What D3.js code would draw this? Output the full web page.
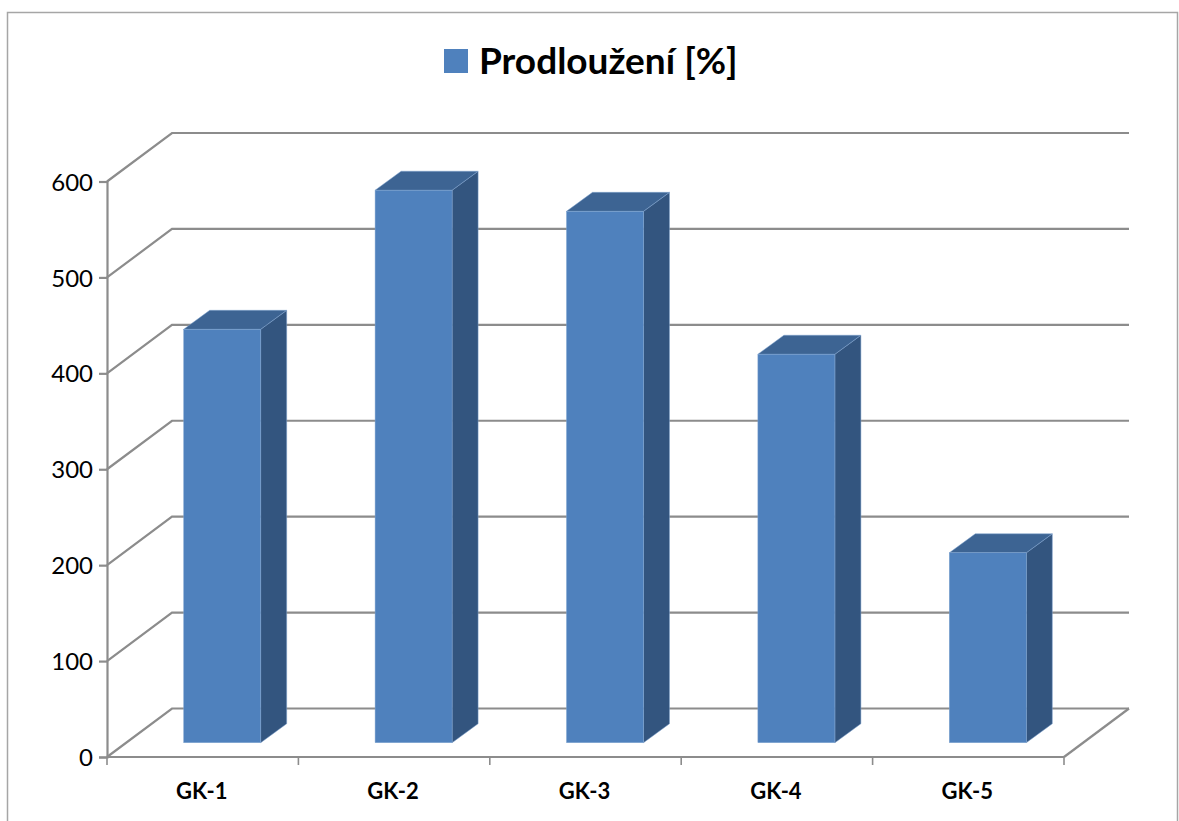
<!DOCTYPE html>
<html>
<head>
<meta charset="utf-8">
<script src="https://cdn.jsdelivr.net/npm/d3@7/dist/d3.min.js"></script>
<style>
html,body{margin:0;padding:0;background:#fff;overflow:hidden}
svg{display:block}
text{font-family:Lato,"Open Sans",sans-serif;fill:#000}
</style>
</head>
<body>
<svg id="chart" width="1179" height="821"></svg>
<script>
// Elongation per sample
const categories = ["GK-1", "GK-2", "GK-3", "GK-4", "GK-5"];
const elongation = [431, 576, 554, 405, 198];
const yTicks = [0, 100, 200, 300, 400, 500, 600];
const seriesName = "Prodloužení [%]";

const svg = d3.select("#chart");
const grey = "#8c8c8c";

const x = d3.scaleBand().domain(categories).range([107, 1064]);
const y = d3.scaleLinear().domain([0, 600]).range([757, 181.5]);

// Oblique projection: wall depth and the inset of the bars on the floor
const wall = {dx: 65, dy: -48.5};
const inset = {dx: 19.5, dy: -14.3};
const barDepth = {dx: 26, dy: -19};
const barWidth = 77;

// Outer chart frame, open at the bottom edge
svg.append("path")
  .attr("d", "M7.5,821V12.5H1177.5V821")
  .attr("fill", "none").attr("stroke", "#a6a6a6").attr("stroke-width", 1.5);

// Gridlines: slanted on the side wall, level on the back wall
const [x0, x1] = x.range();
svg.append("g").selectAll("path").data(yTicks).join("path")
  .attr("d", d => `M${x0},${y(d)}L${x0 + wall.dx},${y(d) + wall.dy}H${x1 + wall.dx}`)
  .attr("fill", "none").attr("stroke", grey).attr("stroke-width", 2.2);

// Front edge of the floor back to the wall
svg.append("path")
  .attr("d", `M${x1},${y(0)}L${x1 + wall.dx},${y(0) + wall.dy}`)
  .attr("fill", "none").attr("stroke", grey).attr("stroke-width", 2.2);

// Value axis
const yAxis = d3.axisLeft(y).tickValues(yTicks).tickSize(8).tickPadding(6);
const yG = svg.append("g").attr("transform", `translate(${x0},0)`).call(yAxis);
yG.selectAll("line,path").attr("stroke", grey).attr("stroke-width", 2.2);
yG.selectAll("text").attr("font-size", 24).attr("dy", "0.36em").attr("font-family", "Lato");

// Category axis with ticks at the band edges
const xG = svg.append("g");
xG.append("line").attr("x1", x0).attr("x2", x1).attr("y1", y(0)).attr("y2", y(0))
  .attr("stroke", grey).attr("stroke-width", 2.2);
const edges = categories.map(c => x(c)).concat(x1);
xG.selectAll("line.tick").data(edges).join("line").attr("class", "tick")
  .attr("x1", d => d).attr("x2", d => d).attr("y1", y(0)).attr("y2", y(0) + 8)
  .attr("stroke", grey).attr("stroke-width", 1.6);
xG.selectAll("text").data(categories).join("text")
  .attr("x", d => x(d) + x.bandwidth() / 2 - 1)
  .attr("y", 799)
  .attr("text-anchor", "middle")
  .attr("font-size", 22).attr("font-weight", 700)
  .text(d => d);

// Bars: side face, top face and front face
const bars = svg.append("g").selectAll("g")
  .data(categories.map((c, i) => ({c, v: elongation[i]})))
  .join("g")
  .attr("transform", d => `translate(${x(d.c) + (x.bandwidth() - barWidth) / 2 + inset.dx},${inset.dy})`);

const edge = "#7ea3cf";
bars.append("path")
  .attr("d", d => `M${barWidth},${y(d.v)}l${barDepth.dx},${barDepth.dy}V${y(0) + barDepth.dy}l${-barDepth.dx},${-barDepth.dy}Z`)
  .attr("fill", "#33557f").attr("stroke", edge).attr("stroke-width", 0.5);
bars.append("path")
  .attr("d", d => `M0,${y(d.v)}l${barDepth.dx},${barDepth.dy}h${barWidth}l${-barDepth.dx},${-barDepth.dy}Z`)
  .attr("fill", "#3d6493").attr("stroke", edge).attr("stroke-width", 0.5);
bars.append("rect")
  .attr("x", 0).attr("y", d => y(d.v))
  .attr("width", barWidth).attr("height", d => y(0) - y(d.v))
  .attr("fill", "#4f81bd").attr("stroke", edge).attr("stroke-width", 0.5);

// Legend above the plot
svg.append("rect").attr("x", 444).attr("y", 49).attr("width", 24).attr("height", 24).attr("fill", "#4f81bd");
svg.append("text").attr("x", 479).attr("y", 74)
  .attr("font-size", 37).attr("font-weight", 700).text(seriesName);
</script>
</body>
</html>
